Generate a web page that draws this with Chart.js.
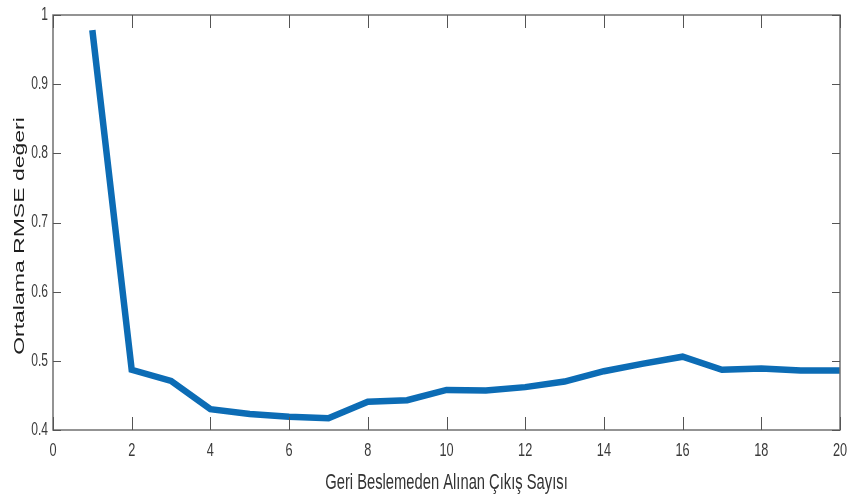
<!DOCTYPE html>
<html>
<head>
<meta charset="utf-8">
<script src="https://cdn.jsdelivr.net/npm/chart.js@4/dist/chart.umd.min.js"></script>
<style>
  html, body { margin: 0; padding: 0; background: #ffffff; }
  #c { display: block; }
</style>
</head>
<body>
<canvas id="c" width="847" height="500"></canvas>
<script>
// Number of fed-back outputs vs. mean RMSE
const outputCounts = [1, 2, 3, 4, 5, 6, 7, 8, 9, 10, 11, 12, 13, 14, 15, 16, 17, 18, 19, 20];
const meanRmse = [0.978, 0.487, 0.471, 0.430, 0.423, 0.419, 0.417, 0.441, 0.443, 0.458,
                  0.457, 0.462, 0.470, 0.485, 0.496, 0.506, 0.487, 0.489, 0.486, 0.486];
const xTickValues = [0, 2, 4, 6, 8, 10, 12, 14, 16, 18, 20];
const yTickValues = [0.4, 0.5, 0.6, 0.7, 0.8, 0.9, 1];
const xTitle = 'Geri Beslemeden Alınan Çıkış Sayısı';
const yTitle = 'Ortalama RMSE değeri';

const axisColor = '#707070';
const FAMILY = '"Liberation Sans", Arial, sans-serif';
const SQUEEZE = 0.67; // condensed text: horizontal scale factor

// Draw a horizontally condensed string at (x, y)
function squeezedText(ctx, text, x, y, align, baseline) {
  ctx.save();
  ctx.translate(x, y);
  ctx.scale(SQUEEZE, 1);
  ctx.textAlign = align;
  ctx.textBaseline = baseline;
  ctx.fillText(text, 0, 0);
  ctx.restore();
}

// Box around the plot, inward tick marks on all four sides, tick labels and axis titles
const boxAxes = {
  id: 'boxAxes',
  afterDraw(chart) {
    const { ctx, chartArea: a, scales: { x, y } } = chart;
    const xLen = 13, yLen = 8;
    ctx.save();
    ctx.strokeStyle = axisColor;
    ctx.lineWidth = 1.5;
    ctx.strokeRect(a.left, a.top, a.right - a.left, a.bottom - a.top);
    ctx.lineWidth = 1;
    ctx.strokeStyle = '#555555';
    ctx.beginPath();
    xTickValues.forEach(v => {
      const px = Math.round(x.getPixelForValue(v)) + 0.5;
      ctx.moveTo(px, a.bottom); ctx.lineTo(px, a.bottom - xLen);
      ctx.moveTo(px, a.top); ctx.lineTo(px, a.top + xLen);
    });
    yTickValues.forEach(v => {
      const py = Math.round(y.getPixelForValue(v)) + 0.5;
      ctx.moveTo(a.left, py); ctx.lineTo(a.left + yLen, py);
      ctx.moveTo(a.right, py); ctx.lineTo(a.right - yLen, py);
    });
    ctx.stroke();

    // tick labels
    ctx.fillStyle = '#3a3a3a';
    ctx.font = '19px ' + FAMILY;
    xTickValues.forEach(v => {
      squeezedText(ctx, String(v), x.getPixelForValue(v), a.bottom + 21, 'center', 'middle');
    });
    ctx.font = '18px ' + FAMILY;
    yTickValues.forEach(v => {
      squeezedText(ctx, String(v), a.left - 5, y.getPixelForValue(v), 'right', 'middle');
    });

    // x title
    ctx.fillStyle = '#333333';
    ctx.font = '22px ' + FAMILY;
    squeezedText(ctx, xTitle, (a.left + a.right) / 2, 483, 'center', 'middle');

    // y title (rotated)
    ctx.fillStyle = '#1e1e1e';
    ctx.font = '23px ' + FAMILY;
    ctx.save();
    ctx.translate(20, 236);
    ctx.scale(SQUEEZE, 1);
    ctx.rotate(-Math.PI / 2);
    ctx.textAlign = 'center';
    ctx.textBaseline = 'middle';
    ctx.fillText(yTitle, 0, 0);
    ctx.restore();

    ctx.restore();
  }
};

new Chart(document.getElementById('c'), {
  type: 'line',
  data: {
    datasets: [{
      data: outputCounts.map((v, i) => ({ x: v, y: meanRmse[i] })),
      borderColor: '#0c6cb5',
      borderWidth: 6.5,
      pointRadius: 0,
      tension: 0,
      fill: false,
      clip: false
    }]
  },
  options: {
    responsive: false,
    animation: false,
    layout: { padding: { top: 15, right: 7, left: 0, bottom: 0 } },
    plugins: { legend: { display: false }, tooltip: { enabled: false } },
    scales: {
      x: {
        type: 'linear',
        min: 0, max: 20,
        ticks: { display: false, stepSize: 2 },
        grid: { display: false, drawTicks: false },
        border: { display: false },
        afterFit(s) { s.height = 70; s.paddingLeft = 0; s.paddingRight = 0; }
      },
      y: {
        min: 0.4, max: 1,
        ticks: { display: false, stepSize: 0.1 },
        grid: { display: false, drawTicks: false },
        border: { display: false },
        afterFit(s) { s.width = 53; s.paddingTop = 0; s.paddingBottom = 0; }
      }
    }
  },
  plugins: [boxAxes]
});
</script>
</body>
</html>
